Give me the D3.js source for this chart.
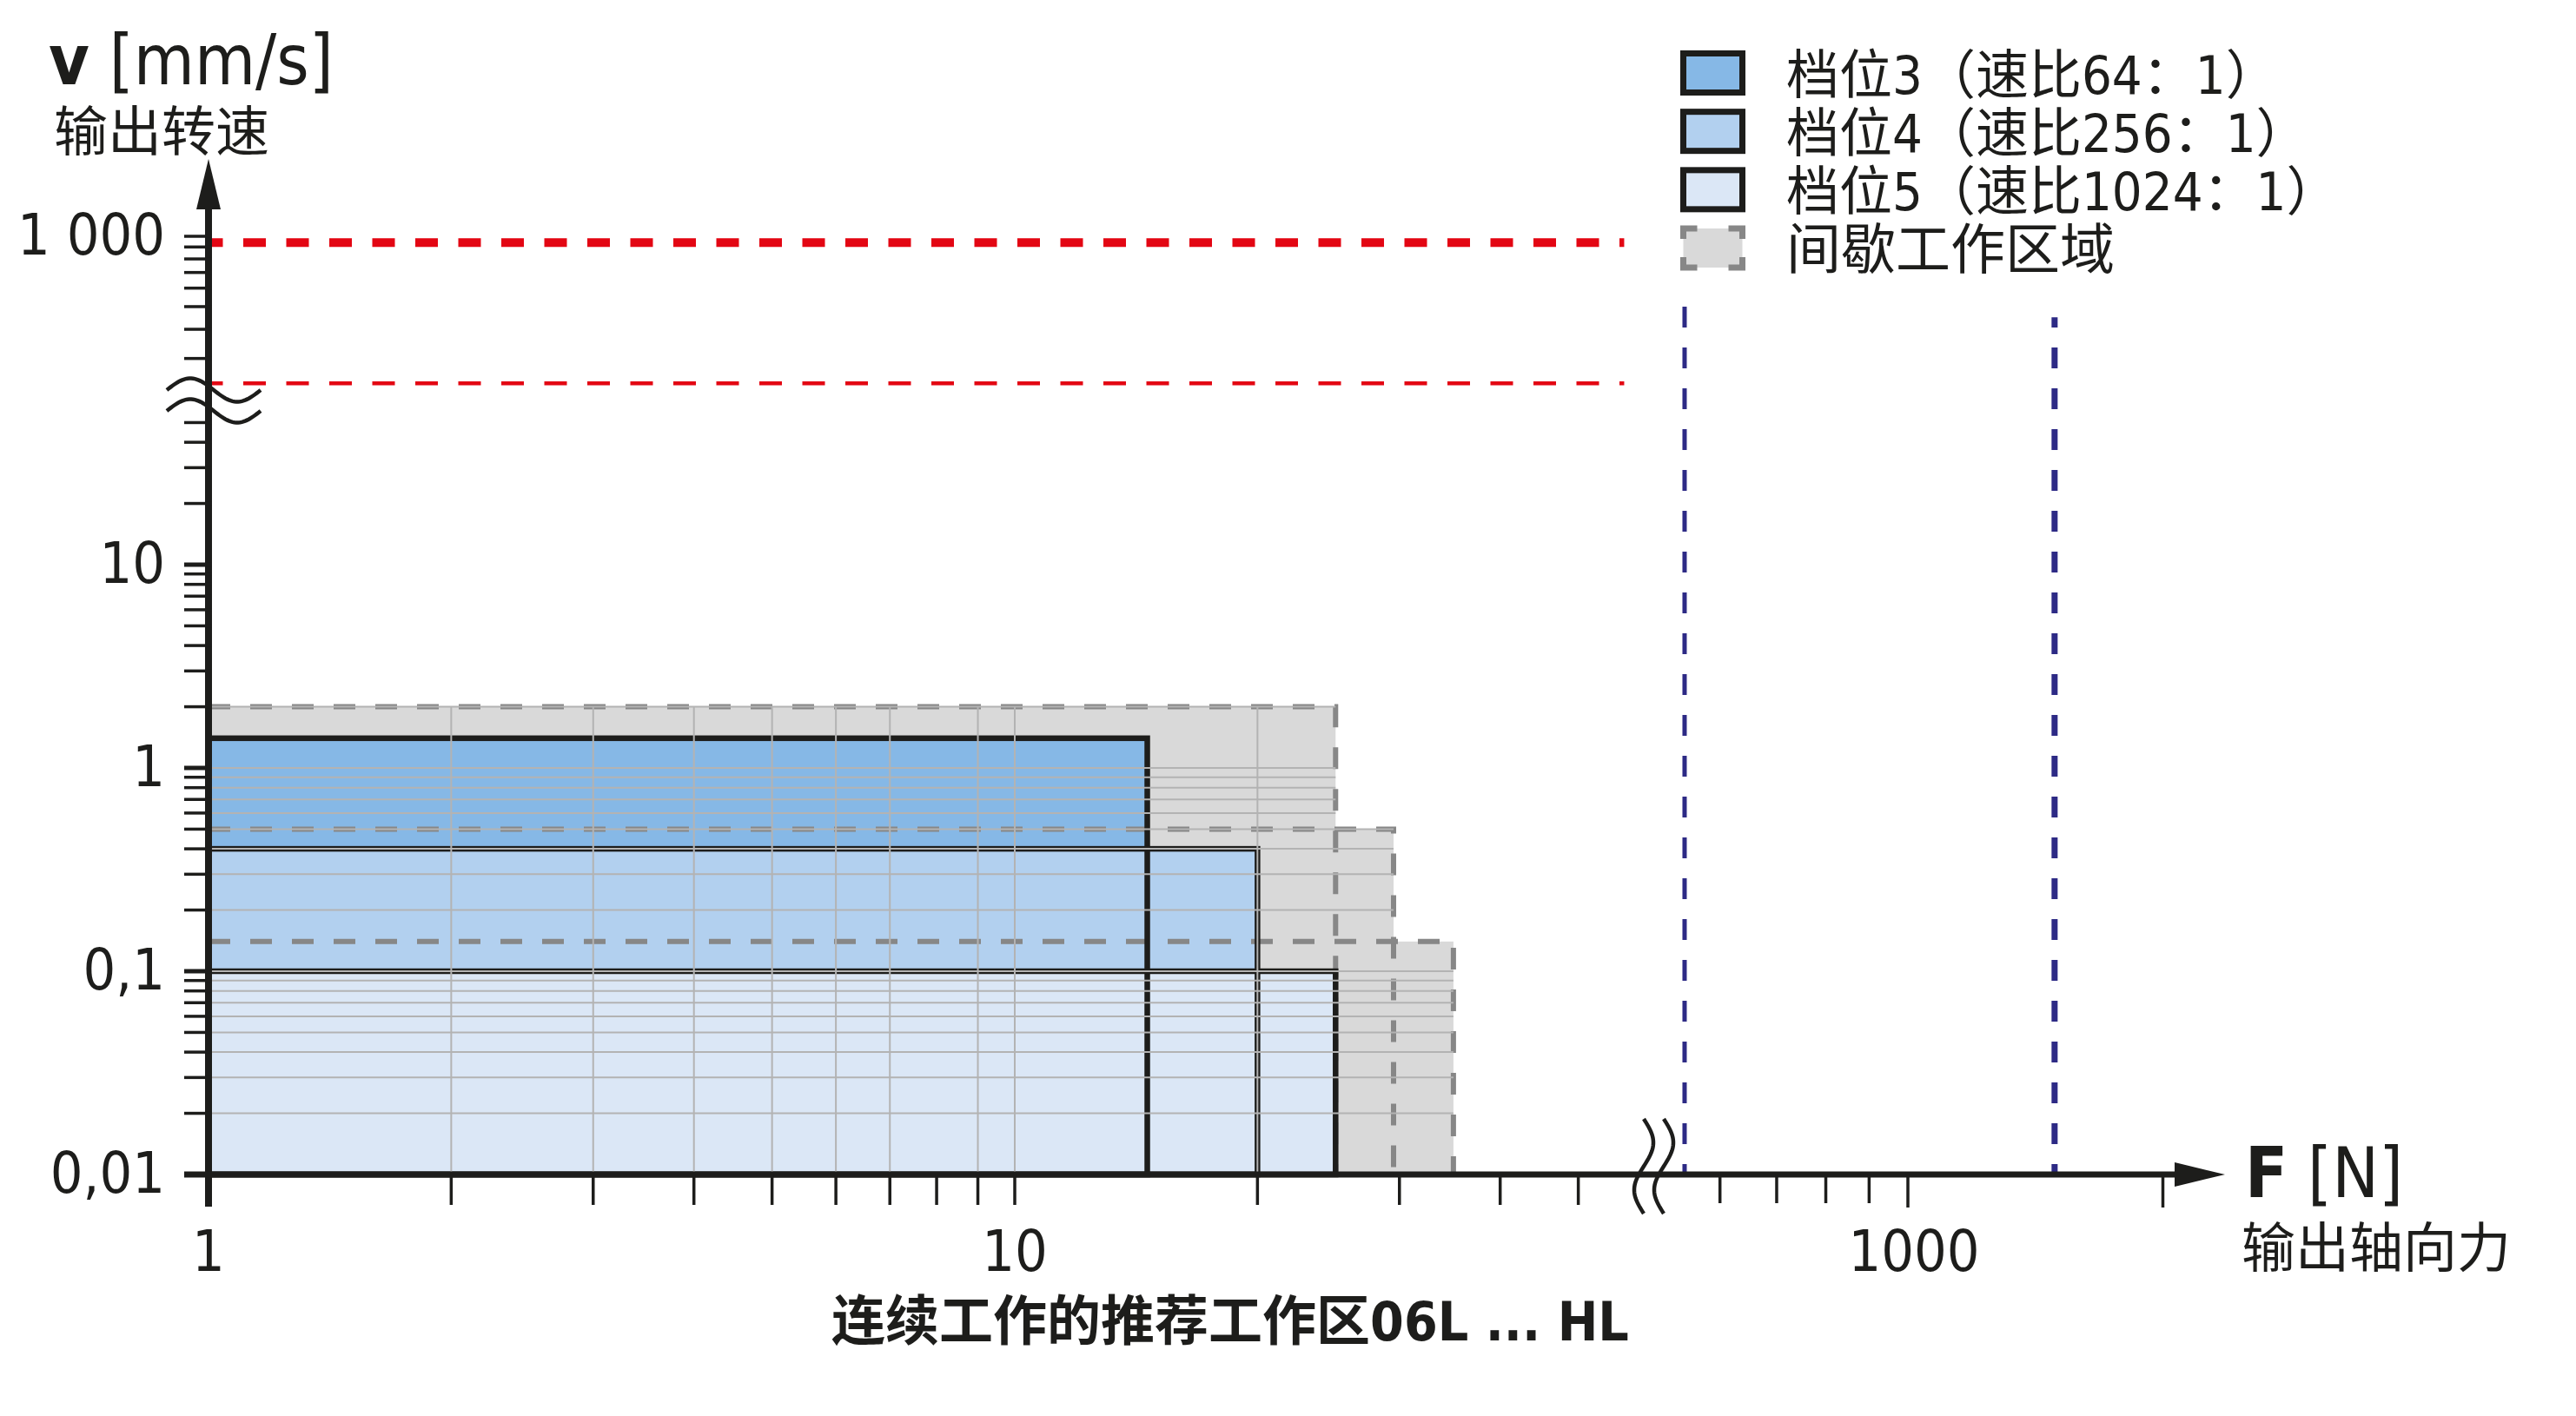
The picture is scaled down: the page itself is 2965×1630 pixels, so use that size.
<!DOCTYPE html>
<html><head><meta charset="utf-8">
<script src="https://cdn.jsdelivr.net/npm/d3@7"></script>
<style>
html,body{margin:0;padding:0;background:#fff;}
svg{display:block;}
</style></head>
<body>
<svg id="chart" width="2965" height="1630"></svg>
<script>
// ---------------- data ----------------
const gearLabels = ["档位3（速比64：1）", "档位4（速比256：1）", "档位5（速比1024：1）"];
const gearMaxForce = [14.6, 20, 25];          // N
const gearMaxSpeed = [1.4, 0.4, 0.1];         // mm/s
const gearColors = ["#86b8e6", "#b2d0ef", "#dbe7f6"];
const intermittentLabel = "间歇工作区域";
const intermittentMaxForce = [25, 29.5, 35];  // N
const intermittentMaxSpeed = [2, 0.5, 0.14];  // mm/s
const redLineSpeeds = [940, 235];             // mm/s
const redLineWidths = [10, 4.5];
const blueLineForces = [545, 1490];           // N
const blueLineTopSpeeds = [500, 450];         // mm/s
const blueLineWidths = [5, 7];
const yLabelText = ["1 000", "10", "1", "0,1", "0,01"];
const yLabelValues = [1000, 10, 1, 0.1, 0.01];
const xLabelText = ["1", "10", "1000"];
const xLabelValues = [1, 10, 1000];
const yTicksLow = [0.02,0.03,0.04,0.05,0.06,0.07,0.08,0.09,0.1,0.2,0.3,0.4,0.5,0.6,0.7,0.8,0.9,1,2,3,4,5,6,7,8,9,10,20,30,40,50];
const yTicksHigh = [300,400,500,600,700,800,900,1000];
const xTicksLeft = [2,3,4,5,6,7,8,9,10,20,30,40,50];
const xTicksRight = [600,700,800,900,1000,2000];
const gridXValues = [2,3,4,5,6,7,9,10,20];
const gridYValues = [0.02,0.03,0.04,0.05,0.06,0.07,0.08,0.09,0.1,0.2,0.3,0.4,0.5,0.6,0.7,0.8,0.9,1,2];
const redLineEndForce = 57;
const yAxisTitle = "v", yAxisUnit = " [mm/s]", yAxisSub = "输出转速";
const xAxisTitle = "F", xAxisUnit = " [N]", xAxisSub = "输出轴向力";
const chartTitle = "连续工作的推荐工作区06L ... HL";

// ---------------- scales ----------------
const LATIN = "'DejaVu Sans Condensed','Liberation Sans Narrow','DejaVu Sans',sans-serif";
const CJK = "'DejaVu Sans Condensed','Noto Sans CJK SC',sans-serif";
const INK = "#1d1d1b";

const xL = d3.scaleLog().domain([1, 10]).range([240, 1168]);       // left segment
const xR = d3.scaleLog().domain([1000, 10000]).range([2196, 3171]); // right segment after break
const yLow = d3.scaleLog().domain([0.01, 10]).range([1352, 650]);   // lower segment
const yHigh = d3.scaleLog().domain([1000, 100]).range([272, 541]);  // upper segment after break

const svg = d3.select("#chart");
const plot = svg.append("g");

const x0 = xL(1), y0 = yLow(0.01);

// intermittent (grey) areas
plot.selectAll("rect.int").data(intermittentMaxForce).join("rect")
  .attr("x", x0).attr("y", (d,i) => yLow(intermittentMaxSpeed[i]))
  .attr("width", d => xL(d) - x0).attr("height", (d,i) => y0 - yLow(intermittentMaxSpeed[i]))
  .attr("fill", "#d9d9d9");

// gear fills
plot.selectAll("rect.gear").data(gearMaxForce).join("rect")
  .attr("x", x0).attr("y", (d,i) => yLow(gearMaxSpeed[i]))
  .attr("width", d => xL(d) - x0).attr("height", (d,i) => y0 - yLow(gearMaxSpeed[i]))
  .attr("fill", (d,i) => gearColors[i]);

// intermittent dashed outlines
plot.append("g").selectAll("rect").data(intermittentMaxForce).join("rect")
  .attr("x", x0).attr("y", (d,i) => yLow(intermittentMaxSpeed[i]))
  .attr("width", d => xL(d) - x0).attr("height", (d,i) => y0 - yLow(intermittentMaxSpeed[i]))
  .attr("fill", "none").attr("stroke", "#878787").attr("stroke-width", 6)
  .attr("stroke-dasharray", "25 23");

// gear outlines
plot.append("g").selectAll("rect").data(gearMaxForce).join("rect")
  .attr("x", x0).attr("y", (d,i) => yLow(gearMaxSpeed[i]))
  .attr("width", d => xL(d) - x0).attr("height", (d,i) => y0 - yLow(gearMaxSpeed[i]))
  .attr("fill", "none").attr("stroke", INK).attr("stroke-width", 6.5);

// grid
function gridEndForce(v) {
  let f = 0;
  intermittentMaxSpeed.forEach((s,i) => { if (s >= v - 1e-9) f = Math.max(f, intermittentMaxForce[i]); });
  return f;
}
const grid = plot.append("g").attr("stroke", "#b3b3b3").attr("stroke-width", 2);
grid.selectAll("line.gx").data(gridXValues).join("line")
  .attr("x1", d => xL(d)).attr("x2", d => xL(d))
  .attr("y1", y0).attr("y2", yLow(2));
grid.selectAll("line.gy").data(gridYValues).join("line")
  .attr("x1", x0).attr("x2", d => xL(gridEndForce(d)))
  .attr("y1", d => yLow(d)).attr("y2", d => yLow(d));

// red dashed lines
plot.append("g").selectAll("line").data(redLineSpeeds).join("line")
  .attr("x1", x0).attr("x2", xL(redLineEndForce))
  .attr("y1", d => yHigh(d)).attr("y2", d => yHigh(d))
  .attr("stroke", "#e30613").attr("stroke-width", (d,i) => redLineWidths[i])
  .attr("stroke-dasharray", "26 23.5").attr("stroke-dashoffset", 9.5);

// blue dashed lines
plot.append("g").selectAll("line").data(blueLineForces).join("line")
  .attr("x1", d => xR(d)).attr("x2", d => xR(d))
  .attr("y1", y0 + 1).attr("y2", (d,i) => yHigh(blueLineTopSpeeds[i]))
  .attr("stroke", "#2d2a85").attr("stroke-width", (d,i) => blueLineWidths[i])
  .attr("stroke-dasharray", "24 23").attr("stroke-dashoffset", 11);

// ---------------- axes ----------------
const ax = svg.append("g").attr("stroke", INK);
// y axis
ax.append("line").attr("x1", x0).attr("x2", x0).attr("y1", 238).attr("y2", 1389).attr("stroke-width", 8);
svg.append("path").attr("fill", INK)
  .attr("d", `M${x0},183 L${x0-14},241 L${x0+14},241 Z`);
// x axis
ax.append("line").attr("x1", 212).attr("x2", 2506).attr("y1", y0).attr("y2", y0).attr("stroke-width", 7);
svg.append("path").attr("fill", INK)
  .attr("d", `M2561,${y0} L2503,${y0-14} L2503,${y0+14} Z`);

// y ticks
ax.selectAll("line.ytl").data(yTicksLow).join("line")
  .attr("x1", x0 - 28).attr("x2", x0 + 4)
  .attr("y1", d => yLow(d)).attr("y2", d => yLow(d))
  .attr("stroke-width", d => (Math.abs(Math.log10(d) - Math.round(Math.log10(d))) < 1e-6) ? 5 : 3.5);
ax.selectAll("line.yth").data(yTicksHigh).join("line")
  .attr("x1", x0 - 28).attr("x2", x0 + 4)
  .attr("y1", d => yHigh(d)).attr("y2", d => yHigh(d))
  .attr("stroke-width", 3.5);
// x ticks
ax.selectAll("line.xtl").data(xTicksLeft).join("line")
  .attr("x1", d => xL(d)).attr("x2", d => xL(d))
  .attr("y1", y0).attr("y2", 1387).attr("stroke-width", 3.5);
ax.selectAll("line.xtr").data(xTicksRight).join("line")
  .attr("x1", d => xR(d)).attr("x2", d => xR(d))
  .attr("y1", y0).attr("y2", d => (d === 1000 || d === 2000) ? 1390 : 1385).attr("stroke-width", 3.5);

// axis break marks (decoration)
function waveH(yc) { // horizontal wave across y axis
  const pts = d3.range(0, 1.0001, 0.02).map(t => [192 + 108 * t, yc - 13.5 * Math.sin(2 * Math.PI * t)]);
  return d3.line()(pts);
}
function waveV(xc) { // vertical wave across x axis
  const pts = d3.range(0, 1.0001, 0.02).map(t => [xc + 11 * Math.sin(2 * Math.PI * t), 1288 + 109 * t]);
  return d3.line()(pts);
}
[449, 473].forEach(yc => svg.append("path").attr("d", waveH(yc)).attr("fill", "none").attr("stroke", INK).attr("stroke-width", 4.5));
[1892, 1915].forEach(xc => svg.append("path").attr("d", waveV(xc)).attr("fill", "none").attr("stroke", INK).attr("stroke-width", 4.5));

// ---------------- labels ----------------
const yScaleFor = v => v >= 100 ? yHigh(v) : yLow(v);
svg.append("g").selectAll("text").data(yLabelText).join("text")
  .attr("x", 190).attr("y", (d,i) => yScaleFor(yLabelValues[i]) + 21)
  .attr("text-anchor", "end").attr("font-family", LATIN).attr("font-size", 66).attr("fill", INK)
  .text(d => d);
const xScaleFor = v => v >= 100 ? xR(v) : xL(v);
svg.append("g").selectAll("text").data(xLabelText).join("text")
  .attr("x", (d,i) => xScaleFor(xLabelValues[i]) + (xLabelValues[i] >= 100 ? 7 : 0)).attr("y", 1463)
  .attr("text-anchor", "middle").attr("font-family", LATIN).attr("font-size", 66).attr("fill", INK)
  .text(d => d);

// axis titles
const yt = svg.append("text").attr("x", 56).attr("y", 97).attr("font-family", LATIN).attr("font-size", 80).attr("fill", INK);
yt.append("tspan").attr("font-weight", "bold").text(yAxisTitle);
yt.append("tspan").text(yAxisUnit);
svg.append("text").attr("x", 62).attr("y", 152).attr("dominant-baseline", "central")
  .attr("font-family", CJK).attr("font-size", 62).attr("fill", INK).text(yAxisSub);

const xt = svg.append("text").attr("x", 2584).attr("y", 1378).attr("font-family", LATIN).attr("font-size", 80).attr("fill", INK);
xt.append("tspan").attr("font-weight", "bold").text(xAxisTitle);
xt.append("tspan").text(xAxisUnit);
svg.append("text").attr("x", 2580).attr("y", 1437).attr("dominant-baseline", "central")
  .attr("font-family", CJK).attr("font-size", 62).attr("fill", INK).text(xAxisSub);

svg.append("text").attr("x", 1416).attr("y", 1521).attr("dominant-baseline", "central")
  .attr("text-anchor", "middle").attr("font-family", CJK).attr("font-weight", "bold")
  .attr("font-size", 62).attr("fill", INK).text(chartTitle);

// ---------------- legend ----------------
const legendItems = gearLabels.concat([intermittentLabel]);
const legendFill = gearColors.concat(["#d9d9d9"]);
const lg = svg.append("g");
const rowY = d3.scaleLinear().domain([0, 3]).range([84, 285.5]);
lg.selectAll("rect").data(legendItems).join("rect")
  .attr("x", 1937.5).attr("y", (d,i) => rowY(i) - 22.5).attr("width", 68).attr("height", 45)
  .attr("fill", (d,i) => legendFill[i])
  .attr("stroke", (d,i) => i < 3 ? INK : "#878787").attr("stroke-width", 7)
  .attr("stroke-dasharray", (d,i) => i < 3 ? null : "16 36 28 21 28 36 28 21 12");
lg.selectAll("text").data(legendItems).join("text")
  .attr("x", 2056).attr("y", (d,i) => rowY(i) + 2).attr("dominant-baseline", "central")
  .attr("font-family", CJK).attr("font-size", (d,i) => i < 3 ? 61 : 63).attr("fill", INK).text(d => d);
</script>
</body></html>
